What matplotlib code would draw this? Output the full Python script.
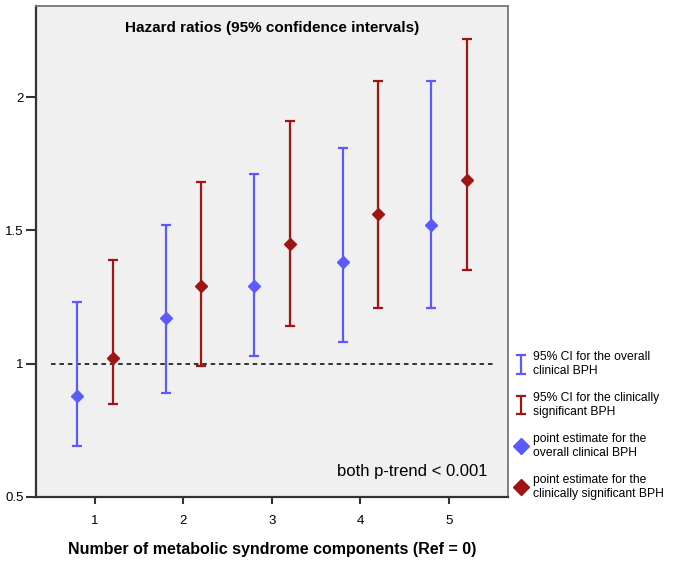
import matplotlib
matplotlib.use('Agg')
import matplotlib.pyplot as plt
from matplotlib.legend_handler import HandlerErrorbar
from matplotlib.container import ErrorbarContainer
import numpy as np

plt.rcParams['font.family'] = ['Liberation Sans', 'DejaVu Sans']

# data
components = [1, 2, 3, 4, 5]
hr_overall = [0.88, 1.17, 1.29, 1.38, 1.52]
lo_overall = [0.69, 0.89, 1.03, 1.08, 1.21]
hi_overall = [1.23, 1.52, 1.71, 1.81, 2.06]
hr_signif = [1.02, 1.29, 1.45, 1.56, 1.69]
lo_signif = [0.85, 0.99, 1.14, 1.21, 1.35]
hi_signif = [1.39, 1.68, 1.91, 2.06, 2.22]

blue = '#5a5aff'
red = '#a01414'
offset = 0.2

fig = plt.figure(figsize=(6.75, 5.62), dpi=100)
ax = fig.add_axes([0.0533, 0.1157, 0.6993, 0.8736])
ax.set_facecolor('#f0f0f0')

x = np.array(components, dtype=float)

# confidence intervals
hr_o = np.array(hr_overall)
hr_s = np.array(hr_signif)
ci_o = ax.errorbar(x - offset, hr_o, yerr=[hr_o - np.array(lo_overall), np.array(hi_overall) - hr_o],
                   fmt='none', ecolor=blue, elinewidth=1.6, capsize=3.5, capthick=1.6, zorder=2)
ci_s = ax.errorbar(x + offset, hr_s, yerr=[hr_s - np.array(lo_signif), np.array(hi_signif) - hr_s],
                   fmt='none', ecolor=red, elinewidth=1.6, capsize=3.5, capthick=1.6, zorder=2)

# point estimates
pt_o, = ax.plot(x - offset, hr_o, 'D', color=blue, markersize=6.5, linestyle='none', zorder=3)
pt_s, = ax.plot(x + offset, hr_s, 'D', color=red, markersize=6.5, linestyle='none', zorder=3)

# reference line
ax.plot([0.5, 5.5], [1, 1], linestyle='--', color='black', linewidth=1.1, dashes=(3, 2.5), zorder=1)

ax.set_xlim(0.333, 5.667)
ax.set_ylim(0.5, 2.342)
ax.set_xticks(components)
ax.set_yticks([0.5, 1, 1.5, 2])
ax.set_yticklabels(['0.5', '1', '1.5', '2'])
ax.tick_params(axis='both', direction='out', labelsize=9.5, color='#333333', width=1.5)
ax.tick_params(axis='y', length=7, pad=2)
ax.tick_params(axis='x', length=5, pad=8)

for side in ['left', 'bottom']:
    ax.spines[side].set_color('#333333')
    ax.spines[side].set_linewidth(1.6)
for side in ['top', 'right']:
    ax.spines[side].set_color('#777777')
    ax.spines[side].set_linewidth(1.3)

ax.text(0.5, 0.955, 'Hazard ratios (95% confidence intervals)', transform=ax.transAxes,
        ha='center', va='center', fontsize=11, fontweight='bold')
ax.text(0.9576, 0.051, 'both p-trend < 0.001', transform=ax.transAxes,
        ha='right', va='center', fontsize=12)

ax.set_xlabel('Number of metabolic syndrome components (Ref = 0)', fontsize=11.5,
              fontweight='bold', labelpad=11)

fig.legend([ci_o, ci_s, pt_o, pt_s],
           ['95% CI for the overall\nclinical BPH',
            '95% CI for the clinically\nsignificant BPH',
            'point estimate for the\noverall clinical BPH',
            'point estimate for the\nclinically significant BPH'],
           loc='lower left', bbox_to_anchor=(0.758, 0.102), frameon=False,
           fontsize=8.7, handlelength=0.8, handletextpad=0.6, labelspacing=1.25,
           markerscale=1.3, borderaxespad=0,
           handler_map={ErrorbarContainer: HandlerErrorbar(xerr_size=0.5, yerr_size=0.75)})

fig.savefig('out.png', dpi=100)
